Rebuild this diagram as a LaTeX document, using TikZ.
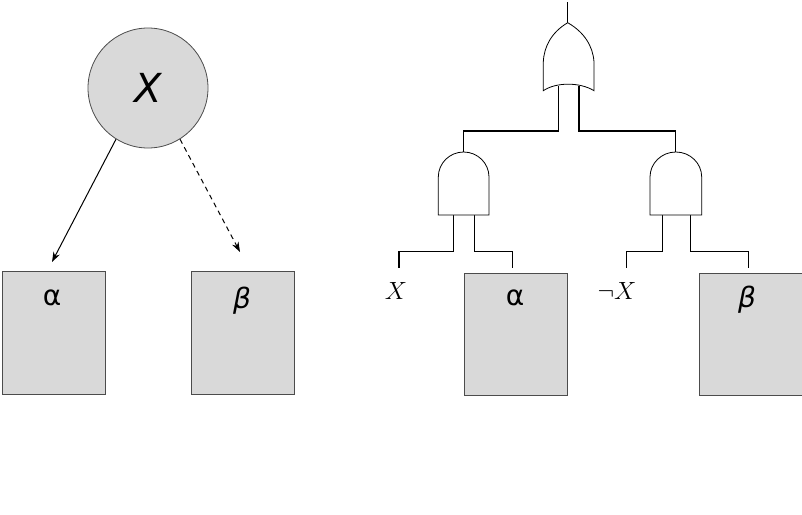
\documentclass[tikz,border=0pt]{standalone}
\usepackage{fontspec}
\newfontfamily\dv{DejaVu Sans}
\usetikzlibrary{arrows.meta}
\begin{document}
\begin{tikzpicture}[x=1pt,y=-1pt,
  box/.style={draw=black!70,fill=black!15,line width=0.8pt},
  wire/.style={line width=1.5pt},
  gate/.style={draw=black,line width=0.8pt,fill=white}]
\useasboundingbox (0,0) rectangle (802,514);
% left
\node[draw=black!70,fill=black!15,line width=0.8pt,circle,minimum size=120pt,inner sep=0] (c) at (148,88) {\dv\fontsize{40}{40}\selectfont\itshape X};
\draw[box] (2,271) rectangle (105,394) coordinate (bl);
\draw[box] (191,271) rectangle (294,394);
\node (la) at (52,298) {\dv\fontsize{28}{28}\selectfont α};
\node (lb) at (242,301) {\dv\fontsize{28}{28}\selectfont\itshape β};
\coordinate (ta) at (52,262);
\coordinate (tb) at (240,252);
\draw[line width=1pt,-{Stealth[length=10pt,width=7pt]}] (c.-122) -- (ta);
\draw[line width=1pt,dashed,dash pattern=on 5pt off 4pt,-{Stealth[length=10pt,width=7pt]}] (c.-58) -- (tb);
% right boxes
\draw[box] (464,273) rectangle (567,395);
\draw[box] (699,273) rectangle (802,395);
\node (ra) at (515,298) {\dv\fontsize{28}{28}\selectfont α};
\node (rb) at (747,300) {\dv\fontsize{28}{28}\selectfont\itshape β};
\node (x1) at (396,291) {\fontsize{28}{28}\selectfont$X$};
\node (x2) at (617,291) {\fontsize{28}{28}\selectfont$\neg X$};
% wires
\draw[wire] (567.7,2) -- (567.7,23);
\draw[wire] (558.3,86) -- (558.3,131) -- (463.3,131) -- (463.3,153);
\draw[wire] (579,86) -- (579,131) -- (675.7,131) -- (675.7,153);
\draw[wire] (453.7,214) -- (453.7,251.7) -- (399,251.7) -- (399,268);
\draw[wire] (474.7,214) -- (474.7,251.7) -- (512.7,251.7) -- (512.7,268);
\draw[wire] (662.7,214) -- (662.7,251.7) -- (626.7,251.7) -- (626.7,268);
\draw[wire] (690.7,214) -- (690.7,251.7) -- (748.3,251.7) -- (748.3,268);
% OR gate
\draw[gate] (567.7,22.7) .. controls (552,32) and (544,46) .. (543.3,62) -- (543.3,90.7)
  .. controls (556,82) and (580,82) .. (594,90.7) -- (594,62)
  .. controls (593,46) and (584,32) .. (567.7,22.7) -- cycle;
% AND gates
\draw[gate] (438.3,215) -- (438.3,177) arc[start angle=180,end angle=0,x radius=25.35,y radius=-25] -- (489,215) -- cycle;
\draw[gate] (650,215) -- (650,177) arc[start angle=180,end angle=0,x radius=25.85,y radius=-25] -- (701.7,215) -- cycle;
\end{tikzpicture}
\end{document}
